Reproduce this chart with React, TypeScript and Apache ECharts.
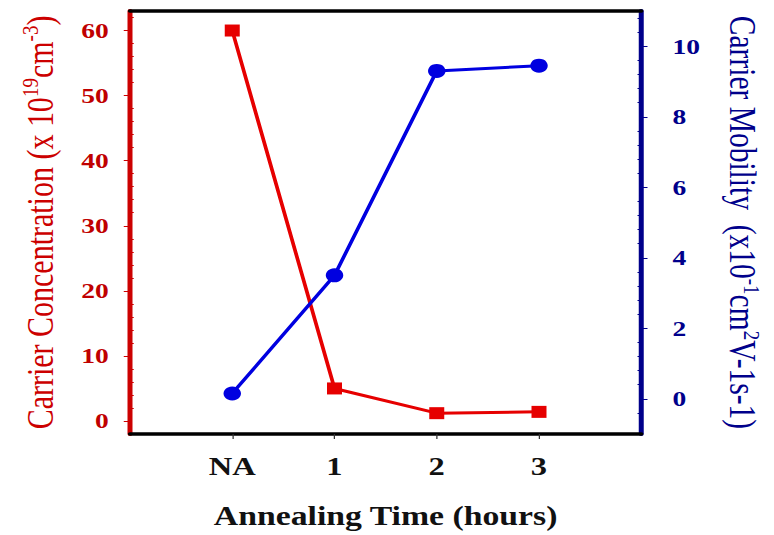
import React, { useEffect, useRef } from "react";
import * as echarts from "echarts";

// Annealing time categories and measured values
const categories = ["NA", "1", "2", "3"];
const concentration = [60, 5, 1.2, 1.4]; // x 10^19 cm^-3
const mobility = [0.15, 3.5, 9.3, 9.45]; // x 10^-1 cm^2 V^-1 s^-1

// Axis tick values
const concTicks = [0, 10, 20, 30, 40, 50, 60];
const concMinorTicks = [2, 4, 6, 8, 12, 14, 16, 18, 22, 24, 26, 28, 32, 34, 36, 38, 42, 44, 46, 48, 52, 54, 56, 58, 62];
const mobTicks = [0, 2, 4, 6, 8, 10];
const mobMinorTicks = [-0.4, 0.4, 0.8, 1.2, 1.6, 2.4, 2.8, 3.2, 3.6, 4.4, 4.8, 5.2, 5.6, 6.4, 6.8, 7.2, 7.6, 8.4, 8.8, 9.2, 9.6, 10.4, 10.8];
const categoryPositions = [1, 2, 3, 4];

const SERIF = "Liberation Serif";
const RED = "#cc0000";
const LINE_RED = "#e60000";
const NAVY = "#00008b";
const LINE_BLUE = "#0000e0";

// the figure is drawn slightly widened horizontally
const STRETCH = 1.25;
const OUTER_W = 774;
const OUTER_H = 535;

export default function App() {
  const ref = useRef<HTMLDivElement>(null);

  useEffect(() => {
    if (!ref.current) return;
    const chart = echarts.init(ref.current, null, { renderer: "svg" });

    const option: any = {
      animation: false,
      backgroundColor: "#ffffff",
      grid: { left: 104, right: OUTER_W / STRETCH - 526.4, top: 11, bottom: 98 },
      xAxis: [
        {
          type: "value",
          position: "bottom",
          min: 0,
          max: 5,
          splitLine: { show: false },
          axisLine: { onZero: false, lineStyle: { color: "#000", width: 3.5 } },
          axisTick: {
            customValues: categoryPositions,
            length: 5,
            lineStyle: { color: "#333", width: 1 },
          },
          axisLabel: {
            customValues: categoryPositions,
            formatter: (v: number) => categories[Math.round(v) - 1] ?? "",
            fontFamily: SERIF,
            fontWeight: "bold",
            fontSize: 26,
            color: "#111",
            margin: 19,
          },
          name: "Annealing Time (hours)",
          nameLocation: "middle",
          nameGap: 69,
          nameTextStyle: { fontFamily: SERIF, fontWeight: "bold", fontSize: 27, color: "#111" },
        },
        {
          type: "value",
          position: "top",
          min: 0,
          max: 5,
          splitLine: { show: false },
          axisLine: { onZero: false, lineStyle: { color: "#000", width: 3.5 } },
          axisTick: { show: false },
          axisLabel: { show: false },
        },
      ],
      yAxis: [
        {
          type: "value",
          position: "left",
          min: -2,
          max: 63,
          offset: 0,
          splitLine: { show: false },
          axisLine: { show: true, onZero: false, lineStyle: { color: RED, width: 4 } },
          axisTick: { customValues: concTicks, length: 5, lineStyle: { color: RED, width: 1 } },
          axisLabel: {
            customValues: concTicks,
            fontFamily: SERIF,
            fontWeight: "bold",
            fontSize: 22,
            color: "#c00000",
            margin: 17,
          },
          name: "{n|Carrier Concentration (x 10}{s|19}{n|cm}{s|-3}{n|)}",
          nameLocation: "middle",
          nameRotate: 90,
          nameGap: 55,
          nameTextStyle: {
            rich: {
              n: { fontFamily: SERIF, fontSize: 30, color: RED, lineHeight: 34 },
              s: { fontFamily: SERIF, fontSize: 19, color: RED, lineHeight: 20, verticalAlign: "top" },
            },
          },
        },
        {
          type: "value",
          position: "right",
          min: -1,
          max: 11,
          offset: 0,
          splitLine: { show: false },
          axisLine: { show: true, onZero: false, lineStyle: { color: NAVY, width: 4 } },
          axisTick: { customValues: mobTicks, length: 5, lineStyle: { color: NAVY, width: 1 } },
          axisLabel: {
            customValues: mobTicks,
            fontFamily: SERIF,
            fontWeight: "bold",
            fontSize: 22,
            color: NAVY,
            margin: 25,
          },
          name: "{n|Carrier Mobility  (x10}{s|-1}{n|cm}{s|2}{n|V-1s-1)}",
          nameLocation: "middle",
          nameRotate: -90,
          nameGap: 64,
          nameTextStyle: {
            rich: {
              n: { fontFamily: SERIF, fontSize: 29.5, color: NAVY, lineHeight: 34 },
              s: { fontFamily: SERIF, fontSize: 19, color: NAVY, lineHeight: 20, verticalAlign: "top" },
            },
          },
        },
        {
          // minor ticks on the concentration axis
          type: "value",
          position: "left",
          min: -2,
          max: 63,
          offset: 0,
          splitLine: { show: false },
          axisLine: { show: false, onZero: false },
          axisTick: { customValues: concMinorTicks, inside: true, length: 3, lineStyle: { color: RED, width: 1 } },
          axisLabel: { show: false },
        },
        {
          // minor ticks on the mobility axis
          type: "value",
          position: "right",
          min: -1,
          max: 11,
          offset: 0,
          splitLine: { show: false },
          axisLine: { show: false, onZero: false },
          axisTick: { customValues: mobMinorTicks, inside: true, length: 3, lineStyle: { color: NAVY, width: 1 } },
          axisLabel: { show: false },
        },
      ],
      series: [
        {
          name: "Carrier Concentration",
          type: "line",
          xAxisIndex: 0,
          yAxisIndex: 0,
          data: categories.map((_, i) => [categoryPositions[i], concentration[i]]),
          symbol: "rect",
          symbolSize: 12,
          lineStyle: { color: LINE_RED, width: 3 },
          itemStyle: { color: LINE_RED },
          z: 3,
        },
        {
          name: "Carrier Mobility",
          type: "line",
          xAxisIndex: 0,
          yAxisIndex: 1,
          data: categories.map((_, i) => [categoryPositions[i], mobility[i]]),
          symbol: "circle",
          symbolSize: 14,
          lineStyle: { color: LINE_BLUE, width: 3 },
          itemStyle: { color: LINE_BLUE },
          z: 4,
        },
      ],
    };

    chart.setOption(option);
    return () => chart.dispose();
  }, []);

  return (
    <div
      style={{
        position: "fixed",
        left: 0,
        top: 0,
        width: OUTER_W,
        height: OUTER_H,
        overflow: "hidden",
        background: "#fff",
      }}
    >
      <div
        ref={ref}
        style={{
          width: OUTER_W / STRETCH,
          height: OUTER_H,
          transform: `scaleX(${STRETCH})`,
          transformOrigin: "0 0",
        }}
      />
    </div>
  );
}
